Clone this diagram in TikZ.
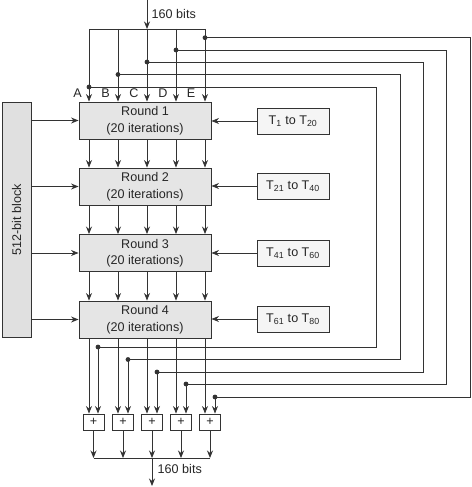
\documentclass[tikz,border=0pt]{standalone}
\usepackage{fontspec}
\setmainfont{Liberation Sans}
\usetikzlibrary{positioning,arrows.meta,calc}

\begin{document}
\begin{tikzpicture}[
  x=1pt, y=-1pt,
  every node/.style={font=\fontsize{12.6}{16.5}\selectfont, text=black!85},
  round/.style={draw=black!80, line width=0.9pt, fill=black!10, minimum width=132pt, minimum height=37pt, align=center, inner sep=0pt},
  tbox/.style={draw=black!80, line width=0.9pt, fill=black!4, minimum width=72pt, minimum height=26pt, inner sep=0pt},
  block/.style={draw=black!80, line width=0.9pt, fill=black!12, minimum width=235pt, minimum height=29pt, rotate=90},
  adder/.style={draw=black!80, line width=0.9pt, fill=white, minimum width=21pt, minimum height=16pt, inner sep=0pt},
  arr/.style={-{Stealth[length=7.5pt,width=6pt]}, draw=black!80, line width=0.9pt},
  wire/.style={draw=black!80, line width=0.9pt},
  junction/.style={circle, fill=black!80, inner sep=0pt, minimum size=4.8pt},
]
\useasboundingbox (0,0) rectangle (471,487);

% rounds, constants, message block
\node[round] (r1) at (145,120.5) {Round 1\\(20 iterations)};
\node[round] (r2) at (145,186.5) {Round 2\\(20 iterations)};
\node[round] (r3) at (145,253) {Round 3\\(20 iterations)};
\node[round] (r4) at (145,319.5) {Round 4\\(20 iterations)};
\node[tbox] (t1) at (293,121) {T\textsubscript{1} to T\textsubscript{20}};
\node[tbox] (t2) at (293,186) {T\textsubscript{21} to T\textsubscript{40}};
\node[tbox] (t3) at (293,253) {T\textsubscript{41} to T\textsubscript{60}};
\node[tbox] (t4) at (293,319) {T\textsubscript{61} to T\textsubscript{80}};
\node[block] (blk) at (16.5,219.5) {512-bit block};

% adders
\node[adder] (adA) at (93.5,422) {+};
\node[adder] (adB) at (123,422) {+};
\node[adder] (adC) at (152,422) {+};
\node[adder] (adD) at (181,422) {+};
\node[adder] (adE) at (210,422) {+};

% buses
\coordinate (in) at (147,0);
\coordinate (cA) at (89,29);
\coordinate (cB) at (118,29);
\coordinate (cC) at (147,29);
\coordinate (cD) at (176,29);
\coordinate (cE) at (205,29);
\coordinate (dA) at (89,87);
\coordinate (dB) at (118,74.5);
\coordinate (dC) at (147,62);
\coordinate (dD) at (176,50);
\coordinate (dE) at (205,37.7);
\coordinate (kA) at (376,347);
\coordinate (kB) at (400,359.5);
\coordinate (kC) at (423,372);
\coordinate (kD) at (446,384);
\coordinate (kE) at (470,397);
\coordinate (eA) at (98,347);
\coordinate (eB) at (128,359.5);
\coordinate (eC) at (157,372);
\coordinate (eD) at (186,384);
\coordinate (eE) at (215,397);
\coordinate (busL) at (93.5,458);
\coordinate (busR) at (210,458);
\coordinate (busC) at (152,458);
\coordinate (out) at (152,486);

\draw[arr] (in) -- (cC);
\draw[wire] (cA) -- (cE);
\draw[wire] (busL) -- (busR);
\draw[arr] (busC) -- (out);

\foreach \c in {A,B,C,D,E} {
  \draw[arr] (c\c) -- (c\c |- r1.north);
  \draw[arr] (r1.south -| c\c) -- (r2.north -| c\c);
  \draw[arr] (r2.south -| c\c) -- (r3.north -| c\c);
  \draw[arr] (r3.south -| c\c) -- (r4.north -| c\c);
  \draw[arr] (r4.south -| c\c) -- (ad\c.north -| c\c);
  \draw[arr] (d\c) -| (k\c) -- (e\c) -- (e\c |- ad\c.north);
  \node[junction] (jd\c) at (d\c) {};
  \node[junction] (je\c) at (e\c) {};
  \draw[arr] (ad\c) -- (ad\c |- busL);
}
\foreach \i in {1,...,4} {
  \draw[arr] (blk.south |- r\i.west) -- (r\i.west);
  \draw[arr] (t\i) -- (r\i.east |- t\i);
}

% labels
\node[anchor=west, inner sep=0pt] (bitsin) at (151.5,14) {160 bits};
\node[anchor=west, inner sep=0pt] (bitsout) at (157.5,469) {160 bits};
\node (lA) at (77.5,93) {A};
\node (lB) at (105.5,93) {B};
\node (lC) at (134,93) {C};
\node (lD) at (163,93) {D};
\node (lE) at (191,93) {E};
\end{tikzpicture}
\end{document}
